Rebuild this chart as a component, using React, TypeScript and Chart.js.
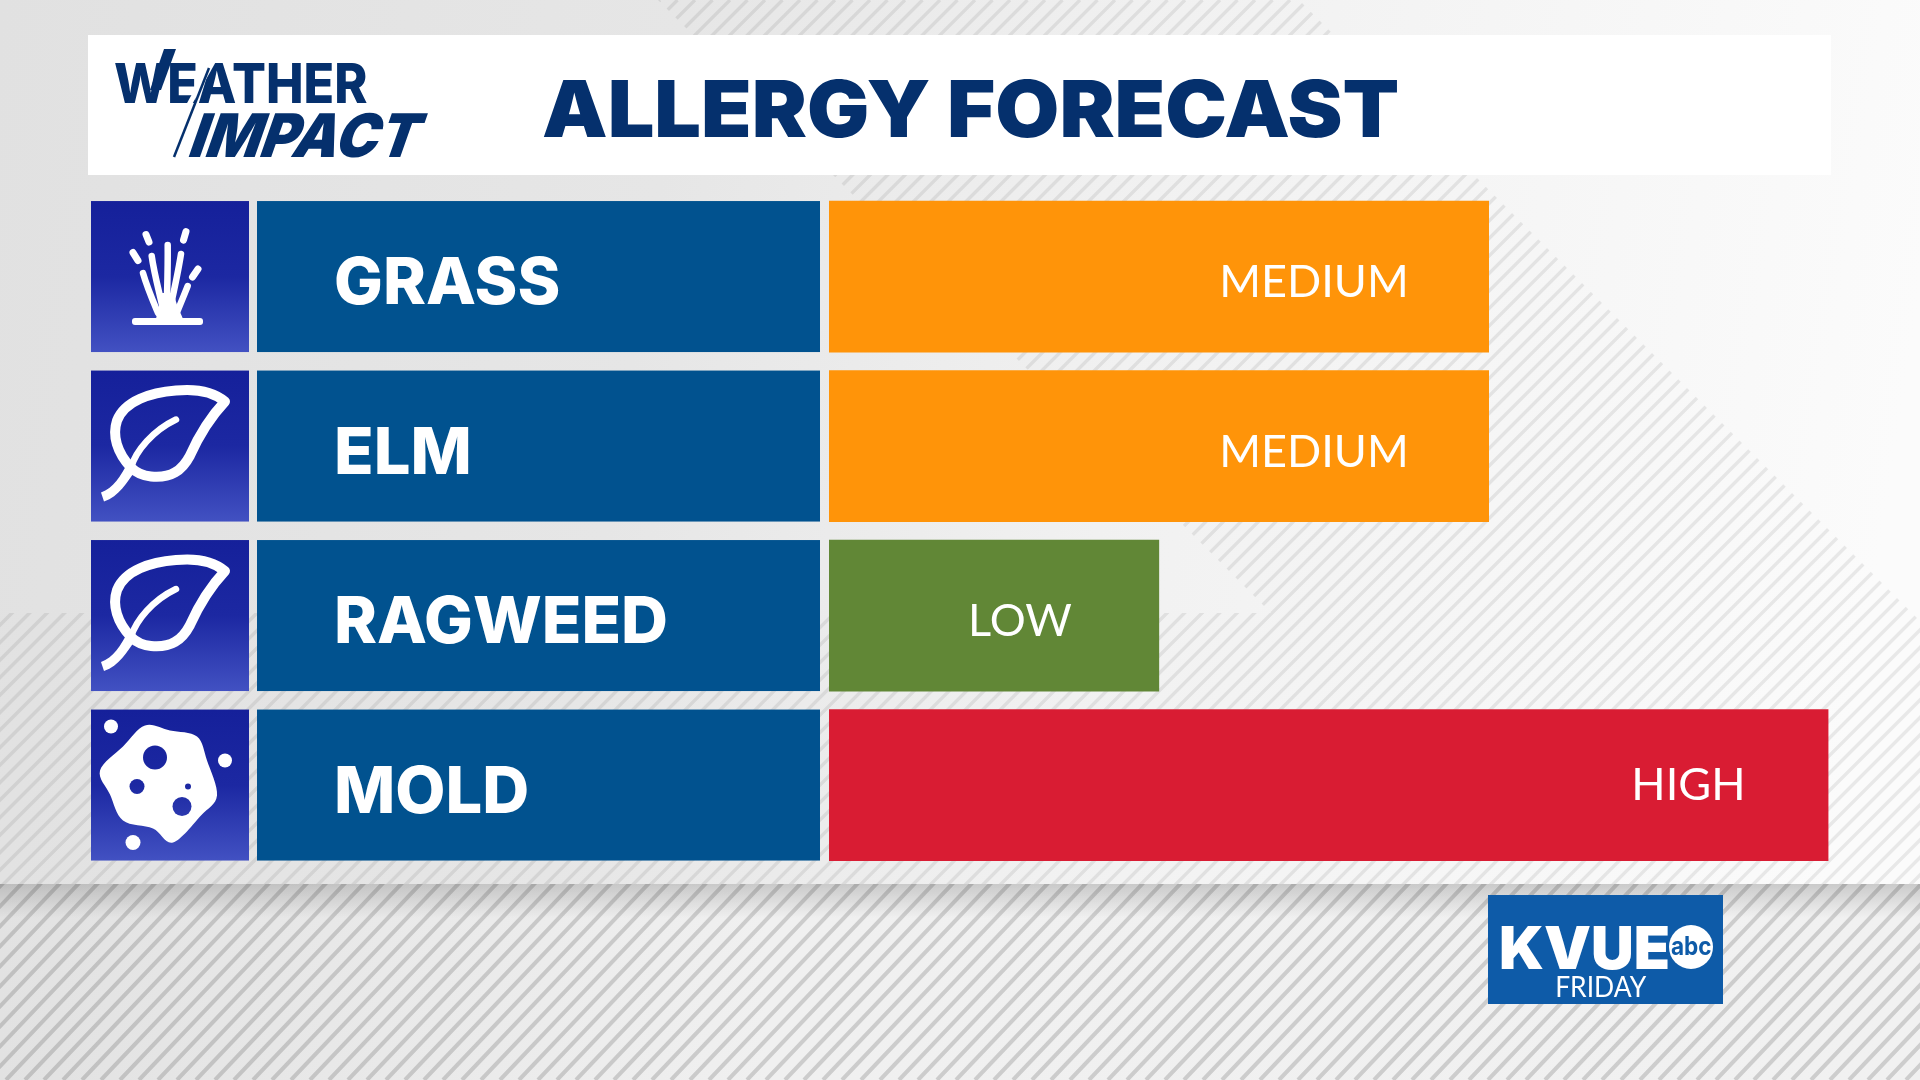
import React, { useEffect, useRef } from "react";
import { Chart, registerables } from "chart.js";

Chart.register(...registerables);

const categories = ["GRASS", "ELM", "RAGWEED", "MOLD"];
const levelValues = [1.98, 1.98, 0.99, 3];
const levelLabels = ["MEDIUM", "MEDIUM", "LOW", "HIGH"];
const barColors = ["#FF9409", "#FF9409", "#618736", "#D91C33"];
const iconKinds = ["grass", "leaf", "leaf", "mold"];
const title = "ALLERGY FORECAST";
const brandTop = "WEATHER";
const brandBottom = "IMPACT";
const station = "KVUE";
const network = "abc";
const dayName = "FRIDAY";

const NAVY = "#05306D";
const ROW_BLUE = "#01528F";

type Ctx = CanvasRenderingContext2D;

function poly(ctx: Ctx, pts: number[][]) {
  ctx.beginPath();
  pts.forEach((p, i) => (i ? ctx.lineTo(p[0], p[1]) : ctx.moveTo(p[0], p[1])));
  ctx.closePath();
}

function hatch(ctx: Ctx, pts: number[][], pitch: number, width: number, color: string, slope: number) {
  ctx.save();
  poly(ctx, pts);
  ctx.clip();
  ctx.strokeStyle = color;
  ctx.lineWidth = width;
  ctx.beginPath();
  for (let x = -1400; x < 2000; x += pitch) {
    ctx.moveTo(x, 1080);
    ctx.lineTo(x + 1080 * slope, 0);
  }
  ctx.stroke();
  ctx.restore();
}

function fitText(ctx: Ctx, text: string, left: number, right: number, baseline: number, font: string, color: string, skew = 0) {
  ctx.save();
  ctx.font = font;
  ctx.fillStyle = color;
  ctx.textAlign = "left";
  ctx.textBaseline = "alphabetic";
  const m = ctx.measureText(text);
  const ink = m.actualBoundingBoxRight + m.actualBoundingBoxLeft;
  const k = (right - left) / ink;
  ctx.translate(left, baseline);
  ctx.transform(k, 0, -skew, 1, 0, 0);
  ctx.fillText(text, m.actualBoundingBoxLeft, 0);
  ctx.restore();
}

function drawBackground(ctx: Ctx) {
  const g = ctx.createLinearGradient(0, 0, 1920, 300);
  g.addColorStop(0, "#e1e1e1");
  g.addColorStop(0.35, "#e6e6e6");
  g.addColorStop(0.6, "#f1f1f1");
  g.addColorStop(1, "#fbfbfb");
  ctx.fillStyle = g;
  ctx.fillRect(0, 0, 1920, 884);
  const band = [[658, 0], [1299, 0], [1920, 621], [1920, 884], [0, 884], [0, 613], [1271, 613]];
  hatch(ctx, band, 17.5, 3.4, "rgba(0,0,0,0.075)", 1);
  const b = ctx.createLinearGradient(0, 0, 1920, 0);
  b.addColorStop(0, "#e2e2e2");
  b.addColorStop(0.4, "#f0f0f0");
  b.addColorStop(1, "#f1f1f1");
  ctx.fillStyle = b;
  ctx.fillRect(0, 884, 1920, 196);
  hatch(ctx, [[0, 884], [1920, 884], [1920, 1080], [0, 1080]], 19, 4, "rgba(0,0,0,0.15)", 0.95);
  const s = ctx.createLinearGradient(0, 884, 0, 918);
  s.addColorStop(0, "rgba(0,0,0,0.16)");
  s.addColorStop(1, "rgba(0,0,0,0)");
  ctx.fillStyle = s;
  ctx.fillRect(0, 884, 1920, 34);
}

function drawLeaf(ctx: Ctx) {
  ctx.strokeStyle = "#fff";
  ctx.lineWidth = 10;
  ctx.lineCap = "round";
  ctx.lineJoin = "round";
  ctx.stroke(new Path2D("M40 97C26 82 21 65 26 50C34 30 60 22 85 20C105 18 122 21 134 31C118 48 108 65 99 85C91 100 80 108 60 106C50 105 45 102 40 97Z"));
  ctx.lineWidth = 6.5;
  ctx.stroke(new Path2D("M40 97C45 80 62 60 85 49"));
  ctx.fillStyle = "#fff";
  ctx.fill(new Path2D("M45 99C36 112 28 126 13 131L10 122C22 118 30 105 37 92Z"));
}

function drawGrass(ctx: Ctx) {
  ctx.fillStyle = "#fff";
  ctx.beginPath();
  ctx.roundRect(41, 117, 71, 7, 3);
  ctx.fill();
  ctx.strokeStyle = "#fff";
  ctx.lineCap = "round";
  ctx.lineWidth = 6.5;
  ["M76.7 44C77 70 76 90 75.7 110", "M60.7 55C63 72 68 90 72 108", "M90 53C87 72 83 90 79 108", "M52 72C56 86 62 100 67 112", "M96.7 85C93 94 89 104 85.7 112"].forEach((d) =>
    ctx.stroke(new Path2D(d))
  );
  ctx.fill(new Path2D("M65 118C67 108 69 102 70.7 92L83 92C85 104 89 110 92 118Z"));
  ctx.lineWidth = 7;
  ctx.stroke(new Path2D("M55 33.5L58 41M95 30.5L92.5 39M42 51.5L47 59.5M107 68L101.5 76"));
}

function drawMold(ctx: Ctx, bg: CanvasGradient) {
  const pts = [[54, 16], [79, 21], [106, 27], [116, 51], [126, 86], [110, 106], [82, 133], [62, 119], [32, 111], [19, 85], [9, 61], [32, 37]];
  ctx.fillStyle = "#fff";
  ctx.beginPath();
  ctx.moveTo(pts[0][0], pts[0][1]);
  const n = pts.length;
  pts.forEach((p, i) => {
    const p0 = pts[(i - 1 + n) % n];
    const p2 = pts[(i + 1) % n];
    const p3 = pts[(i + 2) % n];
    ctx.bezierCurveTo(p[0] + (p2[0] - p0[0]) / 6, p[1] + (p2[1] - p0[1]) / 6, p2[0] - (p3[0] - p[0]) / 6, p2[1] - (p3[1] - p[1]) / 6, p2[0], p2[1]);
  });
  ctx.closePath();
  ctx.fill();
  ctx.fillStyle = bg;
  [[64, 48, 12], [46, 77, 7.5], [91, 97, 9.5], [97, 77, 3]].forEach((c) => {
    ctx.beginPath();
    ctx.arc(c[0], c[1], c[2], 0, 7);
    ctx.fill();
  });
  ctx.fillStyle = "#fff";
  [[20, 17, 7], [134, 51, 7], [42, 133, 7.5]].forEach((c) => {
    ctx.beginPath();
    ctx.arc(c[0], c[1], c[2], 0, 7);
    ctx.fill();
  });
}

function drawHeader(ctx: Ctx) {
  ctx.fillStyle = "#fff";
  ctx.fillRect(88, 35, 1743, 140);
  fitText(ctx, title, 543, 1398, 137, '900 79px Inter, "Liberation Sans"', NAVY);
  fitText(ctx, brandTop, 115, 367, 102.5, '800 55px Inter, "Liberation Sans"', NAVY);
  fitText(ctx, brandBottom, 188, 413, 156.5, '900 60px Inter, "Liberation Sans"', NAVY, 0.35);
  ctx.fillStyle = NAVY;
  poly(ctx, [[164, 49], [176, 49], [161, 90], [150, 90]]);
  ctx.fill();
  ctx.strokeStyle = "#fff";
  ctx.lineWidth = 5;
  ctx.beginPath();
  ctx.moveTo(214, 60);
  ctx.lineTo(186, 110);
  ctx.stroke();
  ctx.strokeStyle = NAVY;
  ctx.lineWidth = 2.5;
  ctx.beginPath();
  ctx.moveTo(209, 68);
  ctx.lineTo(174, 157);
  ctx.stroke();
}

function drawStation(ctx: Ctx) {
  ctx.fillStyle = "#0E5BA8";
  ctx.fillRect(1488, 895, 235, 109);
  fitText(ctx, station, 1501, 1668, 969, '900 59px Inter, "Liberation Sans"', "#fff");
  ctx.fillStyle = "#fff";
  ctx.beginPath();
  ctx.arc(1691, 947, 22, 0, 7);
  ctx.fill();
  fitText(ctx, network, 1671, 1711, 955, '700 25px Inter, "Liberation Sans"', "#0E5BA8");
  fitText(ctx, dayName, 1557, 1647, 997, '400 29px Lato, "Liberation Sans"', "#fff");
}

const scenery = {
  id: "scenery",
  beforeDraw(chart: any) {
    const ctx: Ctx = chart.ctx;
    const y = chart.scales.y;
    ctx.save();
    drawBackground(ctx);
    drawHeader(ctx);
    drawStation(ctx);
    categories.forEach((c, i) => {
      const cy = y.getPixelForValue(i);
      const top = cy - 75.5;
      ctx.fillStyle = ROW_BLUE;
      ctx.fillRect(257, top, 563, 151);
      const g = ctx.createLinearGradient(0, 0, 0, 151);
      g.addColorStop(0, "#15209A");
      g.addColorStop(0.5, "#1C28A2");
      g.addColorStop(1, "#4251C2");
      ctx.save();
      ctx.translate(91, top);
      ctx.fillStyle = g;
      ctx.fillRect(0, 0, 158, 151);
      if (iconKinds[i] === "leaf") drawLeaf(ctx);
      else if (iconKinds[i] === "grass") drawGrass(ctx);
      else drawMold(ctx, g);
      ctx.restore();
    });
    ctx.restore();
  },
  afterDatasetsDraw(chart: any) {
    const ctx: Ctx = chart.ctx;
    const meta = chart.getDatasetMeta(0);
    ctx.save();
    ctx.font = '400 45px Lato, "Liberation Sans"';
    ctx.fillStyle = "#fff";
    ctx.textAlign = "right";
    ctx.textBaseline = "middle";
    const insets: Record<string, number> = { MEDIUM: 80, LOW: 87, HIGH: 83 };
    levelLabels.forEach((t, i) => {
      const el = meta.data[i];
      ctx.fillText(t, el.x - insets[t], el.y + (t === "HIGH" ? 0 : 6));
    });
    ctx.restore();
  },
};

export default function App() {
  const ref = useRef<HTMLCanvasElement>(null);
  useEffect(() => {
    const chart = new Chart(ref.current as HTMLCanvasElement, {
      type: "bar",
      data: {
        labels: categories,
        datasets: [{
          data: levelValues,
          backgroundColor: barColors,
          barThickness: 151,
          borderWidth: 0,
        }],
      },
      options: {
        indexAxis: "y",
        animation: false,
        responsive: false,
        devicePixelRatio: 1,
        layout: { padding: { left: 334, right: 91.5, top: 191.8, bottom: 210.2 } },
        plugins: { legend: { display: false }, tooltip: { enabled: false } },
        scales: {
          x: { display: false, min: 0, max: 3 },
          y: {
            grid: { display: false },
            border: { display: false },
            afterFit: (s: any) => { s.width = 495; },
            ticks: {
              color: "#fff",
              font: { family: "Inter", weight: "800", size: 65 },
              crossAlign: "far",
              labelOffset: 8,
              padding: 0,
              autoSkip: false,
            },
          },
        },
      },
      plugins: [scenery],
    } as any);
    return () => chart.destroy();
  }, []);
  return (
    <>
      <style>{"html,body{margin:0;padding:0;background:#fff}canvas{display:block}"}</style>
      <canvas ref={ref} width={1920} height={1080} style={{ width: 1920, height: 1080 }} />
    </>
  );
}
